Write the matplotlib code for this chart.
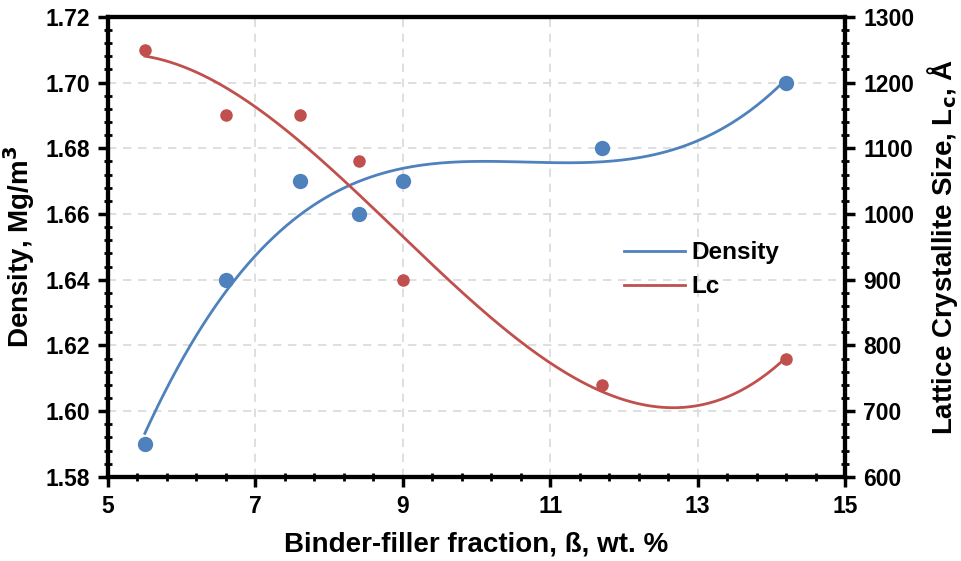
import numpy as np
import matplotlib.pyplot as plt
from matplotlib.ticker import MultipleLocator

plt.rcParams['font.family'] = ['Liberation Sans', 'DejaVu Sans']
plt.rcParams['font.weight'] = 'bold'
plt.rcParams['mathtext.default'] = 'bf'

# binder-filler fraction, wt. %
beta = [5.5, 6.6, 7.6, 8.4, 9.0, 11.7, 14.2]
density = [1.59, 1.64, 1.67, 1.66, 1.67, 1.68, 1.70]
lc = [1250, 1150, 1150, 1080, 900, 740, 780]

blue = '#4F81BD'
red = '#C0504D'

fig = plt.figure(figsize=(9.61, 5.61), dpi=100)
ax = fig.add_axes([0.1124, 0.150, 0.767, 0.820])
ax2 = ax.twinx()

# 3rd order polynomial trend lines
xs = np.linspace(min(beta), max(beta), 200)
pd_ = np.polyfit(beta, density, 3)
pl = np.polyfit(beta, lc, 3)

ax.plot(beta, density, 'o', color=blue, ms=10, zorder=3)
ln1, = ax.plot(xs, np.polyval(pd_, xs), color=blue, lw=2, label='Density', zorder=3)
ax2.plot(beta, lc, 'o', color=red, ms=8, zorder=3)
ln2, = ax2.plot(xs, np.polyval(pl, xs), color=red, lw=2, label='Lc', zorder=3)

ax.set_xlim(5, 15)
ax.set_ylim(1.58, 1.72)
ax2.set_ylim(600, 1300)
ax.set_xticks(np.arange(5, 15.01, 2))
ax.set_xticks(np.arange(5, 15.01, 0.4), minor=True)
ax.yaxis.set_major_locator(MultipleLocator(0.02))
ax.yaxis.set_minor_locator(MultipleLocator(0.004))
ax.yaxis.set_major_formatter(plt.FormatStrFormatter('%.2f'))
ax2.yaxis.set_major_locator(MultipleLocator(100))
ax2.yaxis.set_minor_locator(MultipleLocator(20))

ax.grid(True, which='major', color='#D9D9D9', ls=(0, (5, 4)), lw=1.2)
ax.set_axisbelow(True)

for a in (ax, ax2):
    for s in a.spines.values():
        s.set_linewidth(3)
    a.tick_params(which='major', direction='out', length=7, width=2.5, labelsize=16.5, pad=6)
    a.tick_params(which='minor', direction='inout', length=6, width=2)
ax.tick_params(axis='y', which='both', right=False)
ax2.tick_params(axis='y', which='both', left=False)

ax.set_xlabel('Binder-filler fraction, ß, wt. %', fontsize=20, fontweight='bold', labelpad=10)
ax.set_ylabel('Density, Mg/m$^3$', fontsize=20, fontweight='bold', labelpad=6)
ax2.set_ylabel('Lattice Crystallite Size, L$_c$, Å', fontsize=20, fontweight='bold', labelpad=8)

ax2.legend(handles=[ln1, ln2], loc='upper left', bbox_to_anchor=(0.67, 0.56),
           frameon=False, fontsize=17.5, handlelength=2.5, handletextpad=0.3,
           labelspacing=0.45)

fig.savefig('out.png', dpi=100)
